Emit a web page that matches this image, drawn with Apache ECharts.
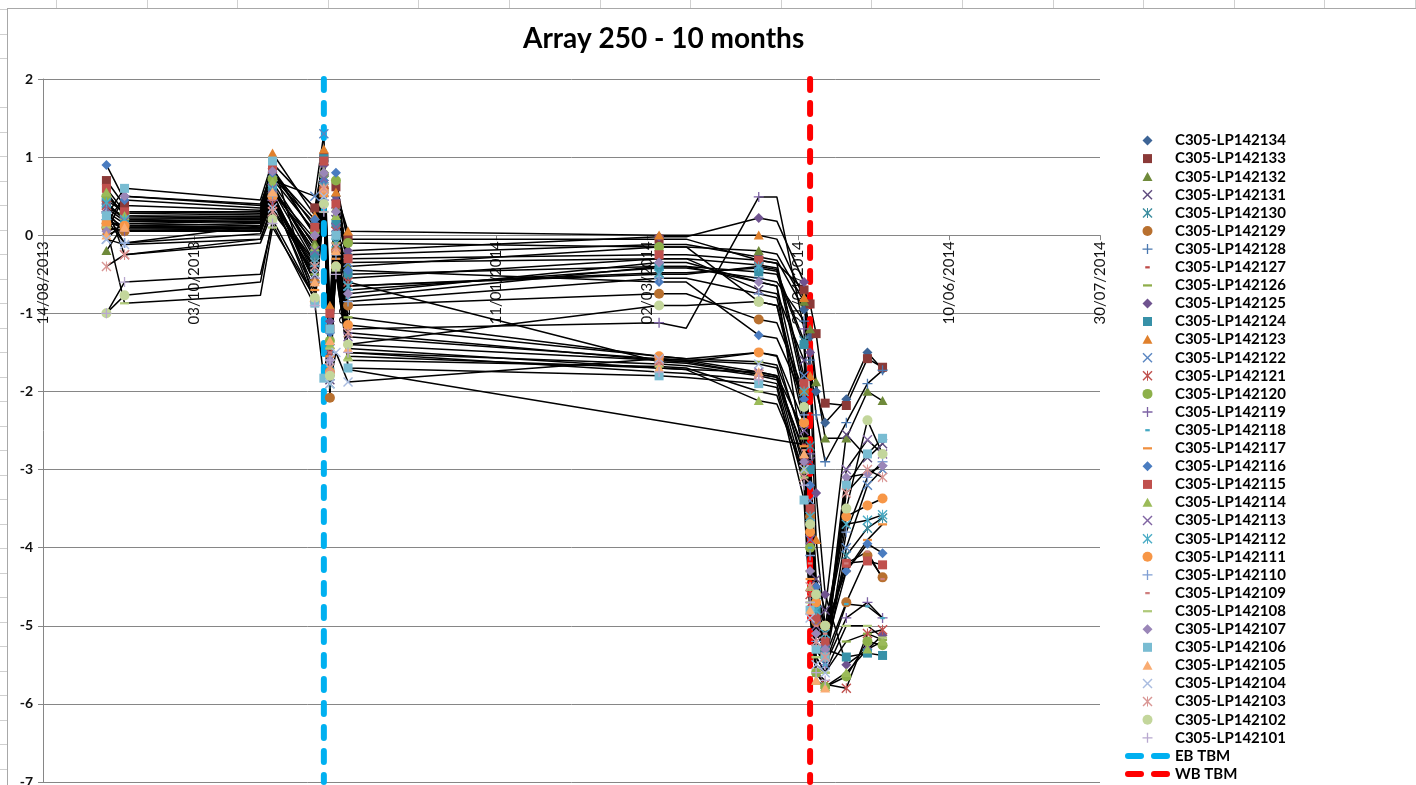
<!DOCTYPE html>
<html>
<head>
<meta charset="utf-8">
<script src="https://cdn.jsdelivr.net/npm/echarts@6/dist/echarts.min.js"></script>
<style>
html, body { margin: 0; padding: 0; width: 1416px; height: 785px; overflow: hidden; background: #fff; }
#sheet {
    position: absolute; left: 0; top: 0; width: 1416px; height: 785px;
    background-image:
        repeating-linear-gradient(to right, transparent 0, transparent 56px, #d0d0d0 56px, #d0d0d0 57px, transparent 57px, transparent 90.6px),
        repeating-linear-gradient(to bottom, transparent 0, transparent 9px, #d0d0d0 9px, #d0d0d0 10px, transparent 10px, transparent 24.5px);
}
#frame {
    position: absolute; left: 7px; top: 8px; width: 1409px; height: 777px;
    box-sizing: border-box; background: #fff;
    border-left: 1px solid #a8a8a8; border-top: 1px solid #a8a8a8;
}
#main { position: absolute; left: 8px; top: 9px; width: 1408px; height: 776px; }
</style>
</head>
<body>
<div id="sheet"></div>
<div id="frame"></div>
<div id="main"></div>
<script>
// survey dates (some are only bends in the lines, no marker)
var dates = ['2013-09-04', '2013-09-10', '2013-10-25', '2013-10-29', '2013-11-12',
             '2013-11-15', '2013-11-17', '2013-11-19', '2013-11-23', '2014-03-06',
             '2014-03-15', '2014-04-08', '2014-04-14', '2014-04-23', '2014-04-25',
             '2014-04-27', '2014-04-30', '2014-05-07', '2014-05-14', '2014-05-19'];
var kneeDates = ['2013-10-25', '2014-03-15', '2014-04-14'];

var names = ['C305-LP142134', 'C305-LP142133', 'C305-LP142132', 'C305-LP142131', 'C305-LP142130',
             'C305-LP142129', 'C305-LP142128', 'C305-LP142127', 'C305-LP142126', 'C305-LP142125',
             'C305-LP142124', 'C305-LP142123', 'C305-LP142122', 'C305-LP142121', 'C305-LP142120',
             'C305-LP142119', 'C305-LP142118', 'C305-LP142117', 'C305-LP142116', 'C305-LP142115',
             'C305-LP142114', 'C305-LP142113', 'C305-LP142112', 'C305-LP142111', 'C305-LP142110',
             'C305-LP142109', 'C305-LP142108', 'C305-LP142107', 'C305-LP142106', 'C305-LP142105',
             'C305-LP142104', 'C305-LP142103', 'C305-LP142102', 'C305-LP142101'];

var LP142134 = [0.45, 0.30, 0.28, 0.75, 0.15, 0.95, -1.55, 0.50, -0.25, -0.12, -0.12, -0.28, -0.32, -0.95, -1.30, -2.00, -2.40, -2.10, -1.50, -1.72];
var LP142133 = [0.70, 0.38, 0.32, 0.92, 0.35, 1.00, -1.20, 0.62, -0.05, -0.05, -0.05, -0.32, -0.36, -0.70, -0.88, -1.26, -2.15, -2.18, -1.58, -1.69];
var LP142132 = [-0.20, 0.15, 0.12, 0.55, -0.10, 0.80, -1.70, 0.35, -0.40, -0.15, -0.15, -0.20, -0.24, -0.85, -1.20, -1.88, -2.60, -2.60, -2.00, -2.12];
var LP142131 = [0.40, 0.20, 0.22, 0.60, -0.20, 0.85, -1.85, 0.20, -0.55, -0.30, -0.30, -0.70, -0.75, -1.60, -2.90, -4.40, -4.80, -2.55, -2.85, -2.67];
var LP142130 = [0.35, 0.25, 0.20, 0.65, -0.30, 0.70, -1.90, 0.10, -0.65, -0.48, -0.48, -0.42, -0.46, -1.35, -2.70, -4.60, -5.20, -4.10, -3.75, -3.62];
var LP142129 = [0.10, 0.05, 0.05, 0.50, -0.60, 0.60, -2.08, -0.20, -0.90, -0.75, -0.75, -1.08, -1.12, -2.00, -3.60, -4.95, -5.40, -4.70, -4.10, -4.38];
var LP142128 = [0.20, -0.10, 0.02, 0.45, -0.40, 0.50, -1.40, 0.00, -0.70, -0.42, -0.42, -0.55, -0.60, -1.10, -1.60, -2.30, -2.90, -2.40, -1.90, -1.73];
var LP142127 = [0.30, 0.15, 0.18, 0.58, -0.05, 0.75, -1.30, 0.30, -1.72, null, null, null, null, -2.68, -3.90, -5.00, -5.30, null, null, null];
var LP142126 = [0.25, 0.10, 0.10, 0.52, -0.50, 0.55, -1.60, -0.10, -1.05, -1.55, -1.58, -1.62, -1.66, -2.60, -4.30, -5.40, -5.60, -5.20, -5.10, -5.18];
var LP142125 = [0.15, 0.50, 0.38, 0.85, 0.00, 0.90, -1.10, 0.45, -0.20, -0.02, -0.02, 0.22, 0.18, -0.60, -1.50, -3.30, -4.60, -5.50, -5.30, -5.12];
var LP142124 = [0.40, 0.22, 0.22, 0.62, -0.25, 0.98, -1.75, 0.15, -0.50, -0.40, -0.40, -0.47, -0.50, -1.40, -3.00, -4.80, -5.30, -5.40, -5.35, -5.38];
var LP142123 = [0.05, 0.12, 0.15, 1.05, 0.25, 1.10, -0.90, 0.55, 0.05, 0.00, 0.00, 0.00, -0.05, -0.80, -1.80, -3.90, -5.00, null, null, null];
var LP142122 = [-0.05, 0.18, 0.20, 0.70, 0.50, 1.30, -1.45, 0.40, -0.35, -0.30, -0.30, -0.38, -0.42, -1.80, -3.40, -5.20, -5.50, -4.00, -3.20, -3.00];
var LP142121 = [0.38, -0.25, -0.05, 0.40, -0.35, 0.65, -1.50, 0.05, -0.60, -1.62, -1.64, -1.78, -1.82, -2.90, -4.60, -5.60, -5.75, -5.80, -5.10, -5.05];
var LP142120 = [0.50, 0.28, 0.26, 0.72, 0.05, 0.78, -1.35, 0.70, -0.10, -0.15, -0.15, -0.85, -0.90, -2.40, -4.00, -5.60, -5.78, -5.65, -5.20, -5.25];
var LP142119 = [0.30, 0.05, 0.10, 0.45, -0.55, 0.45, -1.65, 0.00, -1.20, -1.12, -1.19, 0.49, 0.49, -1.20, -2.80, -4.70, -5.50, -4.90, -4.70, -4.90];
var LP142118 = [0.20, 0.08, 0.08, 0.48, -0.45, 0.52, -1.80, -0.05, -0.80, -0.40, -0.40, -0.60, -0.65, -2.20, -4.00, -5.30, -5.50, -4.72, -4.75, -4.90];
var LP142117 = [0.18, 0.12, 0.10, 0.55, -0.70, 0.50, -1.55, -0.30, -1.40, -1.60, -1.62, -1.50, -1.55, -2.70, -4.40, -5.10, -5.30, -4.30, -3.90, -3.70];
var LP142116 = [0.90, 0.45, 0.35, 0.80, 0.20, 0.70, -1.25, 0.80, -0.45, -0.60, -0.60, -1.28, -1.32, -2.10, -3.20, -4.50, -5.00, -4.30, -3.95, -4.07];
var LP142115 = [0.60, 0.30, 0.30, 0.85, 0.10, 0.95, -1.00, 0.40, -0.30, -0.25, -0.25, -0.32, -0.36, -1.90, -3.50, -4.90, -5.20, -4.20, -4.17, -4.22];
var LP142114 = [0.55, 0.25, 0.24, 0.68, -0.15, 0.82, -1.40, 0.25, -1.55, -1.70, -1.72, -2.12, -2.16, -3.00, -4.50, -5.70, -5.78, -5.60, -5.30, -5.20];
var LP142113 = [0.35, 0.18, 0.18, 0.60, -0.20, 0.72, -1.80, 0.10, -1.30, -1.58, -1.60, -1.75, -1.80, -2.50, -3.90, -5.00, -5.30, -3.00, -2.62, -2.80];
var LP142112 = [0.42, 0.20, 0.16, 0.58, -0.35, 0.62, -1.70, -0.10, -0.65, -0.50, -0.50, -0.40, -0.44, -2.00, -3.60, -4.80, -5.10, -3.70, -3.65, -3.58];
var LP142111 = [0.15, 0.12, 0.10, 0.50, -0.85, 0.55, -1.75, -0.40, -1.15, -1.55, -1.58, -1.50, -1.54, -2.40, -3.80, -4.70, -5.00, -3.60, -3.46, -3.37];
var LP142110 = [0.28, -0.10, 0.12, 0.50, -0.60, 0.40, -1.60, -0.25, -0.85, -0.55, -0.55, -0.75, -0.80, -2.30, -4.10, -5.20, -5.45, -3.80, -3.10, -2.90];
var LP142109 = [0.22, 0.06, 0.06, 0.45, -0.75, 0.35, -1.50, -0.35, -1.50, -1.65, -1.67, -1.80, -1.85, -2.75, -4.20, -5.00, -5.10, -4.20, -4.05, -4.40];
var LP142108 = [0.10, -0.87, -0.77, 0.10, -0.80, 0.30, -1.45, -0.45, -1.60, -1.68, -1.70, -2.00, -2.05, -3.10, -4.70, -5.40, -5.60, -5.00, -5.00, -5.15];
var LP142107 = [0.05, 0.50, 0.40, 0.82, 0.00, 0.80, -1.60, 0.30, -0.75, -0.35, -0.35, -0.60, -0.65, -2.90, -4.30, -5.10, -5.30, -3.10, -3.05, -2.95];
var LP142106 = [0.25, 0.60, 0.45, 0.95, -0.87, -1.83, -1.20, 0.00, -1.70, -1.80, -1.82, -1.90, -1.95, -3.39, -4.80, -5.30, -5.40, -3.20, -2.80, -2.60];
var LP142105 = [0.00, 0.10, 0.08, 0.55, -0.60, 0.60, -1.35, -0.20, -1.45, -1.70, -1.72, -1.75, -1.80, -2.80, -4.80, -5.70, -5.80, null, null, null];
var LP142104 = [-0.05, -0.12, -0.05, 0.35, -0.50, 0.50, -1.90, -1.50, -1.88, -1.58, -1.60, -1.65, -1.70, -3.00, -4.90, -5.50, -5.60, null, null, null];
var LP142103 = [-0.40, -0.25, -0.10, 0.30, -0.40, 0.60, -1.70, -0.15, -1.25, -1.60, -1.62, -1.78, -1.82, -3.10, -4.50, -5.20, -5.40, -3.30, -3.00, -3.10];
var LP142102 = [-1.00, -0.77, -0.60, 0.20, -0.80, 0.40, -1.80, -0.40, -1.40, -0.90, -0.90, -0.85, -0.90, -2.20, -3.70, -4.60, -5.00, -3.50, -2.37, -2.80];
var LP142101 = [-1.00, -0.60, -0.50, 0.15, -0.90, 0.30, -1.60, -0.50, -1.50, -1.75, -1.77, -1.85, -1.90, -3.20, -4.70, -5.60, -5.70, null, null, null];

var values = [LP142134, LP142133, LP142132, LP142131, LP142130, LP142129, LP142128, LP142127, LP142126,
              LP142125, LP142124, LP142123, LP142122, LP142121, LP142120, LP142119, LP142118, LP142117,
              LP142116, LP142115, LP142114, LP142113, LP142112, LP142111, LP142110, LP142109, LP142108,
              LP142107, LP142106, LP142105, LP142104, LP142103, LP142102, LP142101];

// tunnel boring machine passes
var tbmNames = ['EB TBM', 'WB TBM'];
var tbmDates = ['2013-11-15', '2014-04-25'];
var tbmRange = [2, -7];

var axisStart = '2013-08-14';
var axisEnd = '2014-07-30';
var yMin = -7, yMax = 2;

// Excel marker look
var colors = ['#3d6496', '#8b3a38', '#6f8a3a', '#5e4a7e', '#3a8c9e', '#b8702f', '#4a78b0', '#be4b48', '#8fae4a',
              '#6f538f', '#3791a8', '#e0802c', '#5a86c2', '#c0504d', '#8db04a', '#7c62a4', '#45a9c3', '#f0903f',
              '#4a7cc0', '#c0504d', '#9bbb59', '#8064a2', '#4bacc6', '#f79646', '#7f9ed3', '#cf7f7e', '#afc97a',
              '#9a86b8', '#79bcd2', '#f9ac72', '#a9bce0', '#d99694', '#c3d69b', '#b8a8cf'];
var tbmColors = ['#00b0f0', '#ff0000'];
var cycle = ['diamond', 'square', 'triangle', 'x', 'star', 'circle', 'plus', 'dashS', 'dashL'];
var X_PATH = 'M0 2L2 0L10 8L18 0L20 2L12 10L20 18L18 20L10 12L2 20L0 18L8 10Z';
var SYM = {
    diamond: 'path://M10 0L20 10L10 20L0 10Z',
    square: 'path://M0 0M20 20M1 1H19V19H1Z',
    triangle: 'path://M0 0M20 20M10 0.5L20 18.5H0Z',
    x: 'path://' + X_PATH,
    star: 'path://' + X_PATH + 'M9 0H11V20H9Z',
    circle: 'circle',
    plus: 'path://M8.7 0H11.3V8.7H20V11.3H11.3V20H8.7V11.3H0V8.7H8.7Z',
    dashS: 'path://M0 0M20 20M5.5 8H14.5V12.5H5.5Z',
    dashL: 'path://M0 0M20 20M1 8H19V12.5H1Z'
};
var DASH_ICON = 'path://M3 0H16A3 3 0 0 1 16 6H3A3 3 0 0 1 3 0ZM29 0H42A3 3 0 0 1 42 6H29A3 3 0 0 1 29 0Z';

var BASE = Date.UTC(2013, 7, 14);
function dayOf(s) {
    var p = s.split('-');
    return (Date.UTC(+p[0], +p[1] - 1, +p[2]) - BASE) / 86400000;
}
function pad(n) { return n < 10 ? '0' + n : '' + n; }
function fmtDay(v) {
    var d = new Date(BASE + v * 86400000);
    return pad(d.getUTCDate()) + '/' + pad(d.getUTCMonth() + 1) + '/' + d.getUTCFullYear();
}

var FONT = 'Lato';
var GRID_H = 703;
var series = [];
var legendData = [];

for (var i = 0; i < names.length; i++) {
    var pts = [];
    for (var j = 0; j < dates.length; j++) {
        var v = values[i][j];
        if (v === null) continue;
        var item = { value: [dayOf(dates[j]), v] };
        if (kneeDates.indexOf(dates[j]) >= 0) item.symbol = 'none';
        pts.push(item);
    }
    var kind = cycle[i % cycle.length];
    series.push({
        name: names[i],
        type: 'line',
        data: pts,
        symbol: SYM[kind],
        symbolSize: 10,
        lineStyle: { color: '#000', width: 1.5 },
        itemStyle: { color: colors[i], borderWidth: 0 },
        emphasis: { disabled: true }
    });
    legendData.push({ name: names[i], icon: SYM[kind] });
}

for (var k = 0; k < tbmNames.length; k++) {
    var x = dayOf(tbmDates[k]);
    series.push({
        name: tbmNames[k],
        type: 'line',
        data: [[x, tbmRange[0]], [x, tbmRange[1]]],
        symbol: 'none',
        lineStyle: { color: tbmColors[k], width: 6, type: [11, 13], cap: 'round' },
        itemStyle: { color: tbmColors[k] },
        emphasis: { disabled: true }
    });
    legendData.push({ name: tbmNames[k], icon: DASH_ICON });
}

var myChart = echarts.init(document.getElementById('main'));
myChart.setOption({
    animation: false,
    title: {
        text: 'Array 250 - 10 months',
        left: 515, top: 16, padding: 0,
        textStyle: { fontFamily: FONT, fontSize: 28, fontWeight: 'bold', color: '#000' }
    },
    legend: {
        orient: 'vertical',
        left: 1117, top: 124, height: 652, padding: 0,
        itemWidth: 45, itemHeight: 10, itemGap: 3.1,
        align: 'left',
        selectedMode: false,
        textStyle: { fontFamily: FONT, fontSize: 15, fontWeight: 'bold', color: '#000', lineHeight: 14 },
        data: legendData
    },
    grid: { left: 35, top: 70, width: 1057, height: GRID_H, containLabel: false, outerBoundsMode: 'none' },
    xAxis: {
        type: 'value',
        min: dayOf(axisStart), max: dayOf(axisEnd), interval: 50,
        // x axis crosses the y axis at 0, as in Excel
        offset: -GRID_H * (0 - yMin) / (yMax - yMin),
        axisLine: { onZero: false, lineStyle: { color: '#868686', width: 1 } },
        axisTick: { show: true, length: 5, lineStyle: { color: '#868686' } },
        axisLabel: {
            rotate: 90, margin: 6,
            fontFamily: FONT, fontSize: 15, color: '#111',
            formatter: function (v) { return fmtDay(v); }
        },
        splitLine: { show: false }
    },
    yAxis: {
        type: 'value',
        min: yMin, max: yMax, interval: 1,
        axisLine: { show: true, onZero: false, lineStyle: { color: '#868686', width: 1 } },
        axisTick: { show: true, length: 5, lineStyle: { color: '#868686' } },
        axisLabel: { margin: 10, fontFamily: FONT, fontSize: 14, fontWeight: 'bold', color: '#111' },
        splitLine: { lineStyle: { color: '#868686', width: 1 } }
    },
    series: series
});
</script>
</body>
</html>
